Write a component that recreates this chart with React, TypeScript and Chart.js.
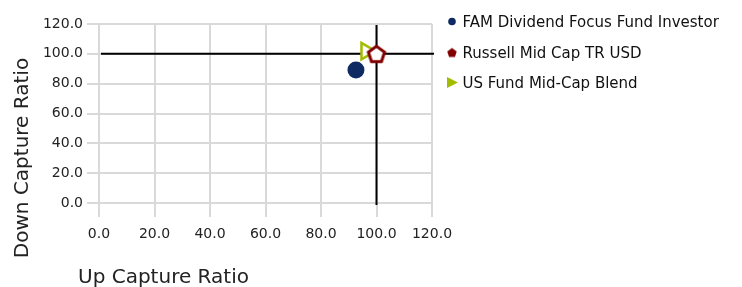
import React, { useEffect, useRef } from "react";
import { Chart, registerables } from "chart.js";

Chart.register(...registerables);

const seriesNames = ["FAM Dividend Focus Fund Investor", "Russell Mid Cap TR USD", "US Fund Mid-Cap Blend"];
const upCapture = [92.6, 100.0, 96.3];
const downCapture = [89.2, 100.0, 101.8];
const seriesColors = ["#0f2a63", "#820000", "#a3bb00"];
const xTicks = [0, 20, 40, 60, 80, 100, 120];
const yTicks = [0, 20, 40, 60, 80, 100, 120];
const crossX = 100;
const crossY = 100;
const xTitle = "Up Capture Ratio";
const yTitle = "Down Capture Ratio";

const FONT = "'DejaVu Sans', Verdana, sans-serif";

function makePentagon(r: number, stroke: string, fill: string, lw: number) {
  const size = Math.ceil(2 * r + lw + 4);
  const c = document.createElement("canvas");
  c.width = size;
  c.height = size;
  const ctx = c.getContext("2d")!;
  const cx = size / 2;
  const cy = size / 2 + r * 0.1;
  ctx.beginPath();
  for (let i = 0; i < 5; i++) {
    const a = -Math.PI / 2 + (i * 2 * Math.PI) / 5;
    const px = cx + r * Math.cos(a);
    const py = cy + r * Math.sin(a);
    if (i === 0) ctx.moveTo(px, py);
    else ctx.lineTo(px, py);
  }
  ctx.closePath();
  if (fill) {
    ctx.fillStyle = fill;
    ctx.fill();
  }
  if (lw > 0) {
    ctx.lineWidth = lw;
    ctx.strokeStyle = stroke;
    ctx.lineJoin = "miter";
    ctx.stroke();
  }
  return c;
}

export default function App() {
  const ref = useRef<HTMLCanvasElement | null>(null);

  useEffect(() => {
    if (!ref.current) return;
    const pentBig = makePentagon(8.5, seriesColors[1], "#ffffff", 3);
    const pentSmall = makePentagon(5, seriesColors[1], seriesColors[1], 0);

    const crosshair = {
      id: "crosshair",
      beforeDatasetsDraw(chart: any) {
        const { ctx, chartArea, scales } = chart;
        const px = scales.x.getPixelForValue(crossX);
        const py = scales.y.getPixelForValue(crossY);
        ctx.save();
        ctx.strokeStyle = "#000";
        ctx.lineWidth = 2;
        ctx.beginPath();
        ctx.moveTo(px, chartArea.top + 1);
        ctx.lineTo(px, chartArea.bottom + 2);
        ctx.moveTo(chartArea.left + 2, py);
        ctx.lineTo(chartArea.right + 2, py);
        ctx.stroke();
        ctx.restore();
      },
    };

    const extras = {
      id: "extras",
      afterDraw(chart: any) {
        const { ctx } = chart;
        ctx.save();
        // axis titles
        ctx.fillStyle = "#222";
        ctx.font = `20px ${FONT}`;
        ctx.textBaseline = "middle";
        ctx.textAlign = "left";
        ctx.fillText(xTitle, 78, 278);
        ctx.save();
        ctx.translate(23, 158);
        ctx.rotate(-Math.PI / 2);
        ctx.textAlign = "center";
        ctx.fillText(yTitle, 0, 0);
        ctx.restore();
        // legend
        const rows = [21.5, 52.5, 82.5];
        ctx.font = `15px ${FONT}`;
        ctx.textAlign = "left";
        ctx.textBaseline = "alphabetic";
        seriesNames.forEach((name, i) => {
          const y = rows[i];
          const x = 452;
          if (i === 0) {
            ctx.beginPath();
            ctx.arc(x, y, 3.8, 0, Math.PI * 2);
            ctx.fillStyle = seriesColors[0];
            ctx.fill();
          } else if (i === 1) {
            ctx.drawImage(pentSmall, x - pentSmall.width / 2, y - pentSmall.height / 2);
          } else {
            ctx.beginPath();
            ctx.moveTo(x - 5, y - 5.5);
            ctx.lineTo(x + 6, y);
            ctx.lineTo(x - 5, y + 5.5);
            ctx.closePath();
            ctx.fillStyle = seriesColors[2];
            ctx.fill();
          }
          ctx.fillStyle = "#111";
          ctx.fillText(name, 462.5, y + 5.5);
        });
        ctx.restore();
      },
    };

    const chart = new Chart(ref.current, {
      type: "scatter",
      data: {
        datasets: seriesNames.map((name, i) => ({
          label: name,
          data: [{ x: upCapture[i], y: downCapture[i] }],
          backgroundColor: i === 0 ? seriesColors[0] : "#ffffff",
          borderColor: seriesColors[i],
          borderWidth: i === 0 ? 0 : 2.5,
          pointStyle: i === 0 ? "circle" : i === 1 ? (pentBig as any) : "triangle",
          pointRotation: i === 2 ? 90 : 0,
          radius: i === 0 ? 8.5 : i === 1 ? 10 : 9.5,
          hoverRadius: i === 0 ? 8.5 : 10,
        })),
      },
      options: {
        animation: false,
        responsive: true,
        maintainAspectRatio: false,
        layout: { padding: { left: 0, right: 310, top: 24, bottom: 0 } },
        plugins: { legend: { display: false }, tooltip: { enabled: false } },
        scales: {
          x: {
            type: "linear",
            min: 0,
            max: 120,
            afterBuildTicks: (s: any) => {
              s.ticks = xTicks.map((v) => ({ value: v }));
            },
            afterFit: (s: any) => {
              s.height = 84;
            },
            ticks: {
              padding: 9,
              color: "#222",
              font: { family: FONT, size: 14 },
              callback: (v: any) => Number(v).toFixed(1),
            },
            grid: { color: "#d9d9d9", lineWidth: 2, tickLength: 14, drawTicks: true },
            border: { display: false },
          },
          y: {
            type: "linear",
            min: 0,
            max: 120,
            afterBuildTicks: (s: any) => {
              s.ticks = yTicks.map((v) => ({ value: v }));
            },
            afterFit: (s: any) => {
              s.width = 99;
            },
            ticks: {
              padding: 4,
              color: "#222",
              font: { family: FONT, size: 14 },
              callback: (v: any) => Number(v).toFixed(1),
            },
            grid: { color: "#d9d9d9", lineWidth: 2, tickLength: 12, drawTicks: true },
            border: { display: false },
          },
        },
      },
      plugins: [crosshair, extras],
    });
    return () => chart.destroy();
  }, []);

  return (
    <div style={{ position: "fixed", left: 0, top: 0, width: 742, height: 287, background: "#fff" }}>
      <canvas ref={ref} />
    </div>
  );
}
